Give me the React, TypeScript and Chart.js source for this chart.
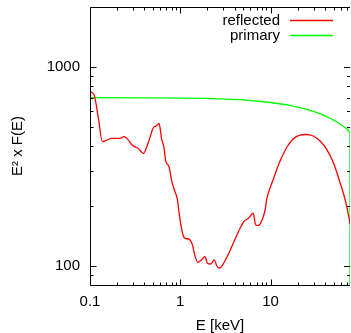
import { useEffect, useRef } from 'react';
import { Chart, registerables } from 'chart.js';

Chart.register(...registerables);

// Energy grid (keV) and E^2 F(E) values for the reflected spectrum
const reflectedE = [
  0.1, 0.1107, 0.1236, 0.1369, 0.1467, 0.174, 0.2149, 0.238, 0.2617, 0.2943,
  0.343, 0.3896, 0.4426, 0.512, 0.5387, 0.5815, 0.623, 0.6607, 0.69, 0.7504,
  0.804, 0.8525, 0.9135, 0.9276, 0.9936, 1.081, 1.149, 1.25, 1.374, 1.457,
  1.561, 1.685, 1.88, 1.994, 2.175, 2.384, 2.535, 2.688, 2.88, 3.132,
  3.558, 4.043, 4.592, 5.087, 5.675, 6.447, 6.785, 7.141, 7.65, 8.69,
  9.08, 10.74, 12.75, 15.12, 17.89, 21.23, 24.74, 29.8, 35.37, 41.95,
  49.63, 58.9, 66.9, 74.66, 76,
];
const reflectedF = [
  750, 726, 555, 421, 424, 437, 437, 446, 432, 403,
  389, 367, 416, 500, 503, 519, 432, 393, 336, 315,
  267, 243, 223, 216, 171, 141, 137, 136, 126, 112,
  104, 106, 111, 103, 102, 107, 100, 97.4, 99.3, 106,
  119, 136, 154, 167, 173, 184, 162, 159, 162, 189,
  216, 272, 336, 393, 435, 454, 457, 449, 424, 385,
  330, 262, 216, 171, 162,
];

// Primary spectrum (drops to zero at the cut-off energy)
const primaryE = [
  0.1, 0.5, 1, 2, 5, 10, 15, 20, 25, 30, 35, 40, 45, 50, 55, 60, 65, 70, 76, 76,
];
const primaryF = [
  700, 699, 697, 694, 683, 662, 645, 628, 612, 597, 582, 567, 553, 540, 527, 513, 500, 488, 466, 0.001,
];

const seriesLabels = ['reflected', 'primary'];
const seriesColors = ['#ff0000', '#00ff00'];

const xMajorTicks = [0.1, 1, 10];
const xTickLabels = ['0.1', '1', '10'];
const xMinorTicks = [0.2, 0.3, 0.4, 0.5, 0.6, 0.7, 0.8, 0.9, 2, 3, 4, 5, 6, 7, 8, 9, 20, 30, 40, 50, 60, 70];
const yMajorTicks = [100, 1000];
const yTickLabels = ['100', '1000'];
const yMinorTicks = [90, 200, 300, 400, 500, 600, 700, 800, 900];

const xRange = [0.1, 76];
const yRange = [80, 2000];

const FONT = "'Liberation Sans', Arial, Helvetica, sans-serif";

const framePlugin = {
  id: 'gnuFrame',
  afterDraw(chart: any) {
    const { ctx, chartArea: a, scales } = chart;
    const sx = scales.x;
    const sy = scales.y;
    ctx.save();
    ctx.strokeStyle = '#000';
    ctx.lineWidth = 1;
    ctx.beginPath();
    const L = Math.round(a.left) + 0.5;
    const T = Math.round(a.top) + 0.5;
    const B = Math.round(a.bottom) + 0.5;
    const R = a.right;
    ctx.moveTo(L, T);
    ctx.lineTo(L, B);
    ctx.lineTo(R, B);
    ctx.moveTo(L, T);
    ctx.lineTo(R, T);
    const xt = (vals: number[], len: number) => {
      vals.forEach((v) => {
        const px = Math.round(sx.getPixelForValue(v)) + 0.5;
        ctx.moveTo(px, B);
        ctx.lineTo(px, B - len);
        ctx.moveTo(px, T);
        ctx.lineTo(px, T + len);
      });
    };
    const yt = (vals: number[], len: number) => {
      vals.forEach((v) => {
        const py = Math.round(sy.getPixelForValue(v)) + 0.5;
        ctx.moveTo(L, py);
        ctx.lineTo(L + len, py);
        ctx.moveTo(R, py);
        ctx.lineTo(R - len, py);
      });
    };
    xt(xMajorTicks, 6);
    xt(xMinorTicks, 3);
    yt(yMajorTicks, 6);
    yt(yMinorTicks, 3);
    ctx.stroke();

    // key (text right-aligned, sample line to the right)
    ctx.font = `15px ${FONT}`;
    ctx.fillStyle = '#000';
    ctx.textAlign = 'right';
    ctx.textBaseline = 'middle';
    const rows = [21, 36];
    seriesLabels.forEach((lab, i) => {
      ctx.fillText(lab, 280, rows[i]);
      ctx.beginPath();
      ctx.strokeStyle = seriesColors[i];
      ctx.lineWidth = 1.3;
      ctx.moveTo(290, rows[i] - 0.5);
      ctx.lineTo(333, rows[i] - 0.5);
      ctx.stroke();
    });
    ctx.restore();
  },
};

export default function App() {
  const ref = useRef<HTMLCanvasElement | null>(null);
  useEffect(() => {
    if (!ref.current) return;
    Chart.defaults.font.family = FONT;
    Chart.defaults.font.size = 15;
    Chart.defaults.color = '#000';
    const chart = new Chart(ref.current, {
      type: 'line',
      data: {
        datasets: [
          {
            label: seriesLabels[0],
            data: reflectedE.map((e, i) => ({ x: e, y: reflectedF[i] })),
            borderColor: seriesColors[0],
            borderWidth: 1.3,
            pointRadius: 0,
            fill: false,
            cubicInterpolationMode: 'monotone',
          },
          {
            label: seriesLabels[1],
            data: primaryE.map((e, i) => ({ x: e, y: primaryF[i] })),
            borderColor: seriesColors[1],
            borderWidth: 1.3,
            pointRadius: 0,
            fill: false,
            tension: 0,
          },
        ],
      },
      options: {
        animation: false,
        responsive: false,
        devicePixelRatio: 1,
        layout: { padding: { top: 7, right: 1, left: 0, bottom: 0 } },
        plugins: { legend: { display: false }, tooltip: { enabled: false } },
        scales: {
          x: {
            type: 'logarithmic',
            min: xRange[0],
            max: xRange[1],
            grid: { display: false, drawTicks: false },
            border: { display: false },
            afterBuildTicks: (s: any) => {
              s.ticks = xMajorTicks.map((v) => ({ value: v }));
            },
            afterFit: (s: any) => {
              s.height = 48;
              s.paddingLeft = 0;
              s.paddingRight = 0;
            },
            ticks: {
              autoSkip: false,
              maxRotation: 0,
              padding: 8,
              callback: (v: any) => {
                const i = xMajorTicks.indexOf(Number(v));
                return i >= 0 ? xTickLabels[i] : '';
              },
            },
            title: {
              display: true,
              text: 'E [keV]',
              font: { size: 15, lineHeight: 1 },
              padding: { top: 0, bottom: 0 },
            },
          },
          y: {
            type: 'logarithmic',
            min: yRange[0],
            max: yRange[1],
            grid: { display: false, drawTicks: false },
            border: { display: false },
            afterBuildTicks: (s: any) => {
              s.ticks = yMajorTicks.map((v) => ({ value: v }));
            },
            afterFit: (s: any) => {
              s.width = 90;
              s.paddingTop = 0;
              s.paddingBottom = 0;
            },
            ticks: {
              autoSkip: false,
              padding: 10,
              callback: (v: any) => {
                const i = yMajorTicks.indexOf(Number(v));
                return i >= 0 ? yTickLabels[i] : '';
              },
            },
            title: {
              display: true,
              text: 'E² x F(E)',
              font: { size: 15, lineHeight: 1 },
              padding: { top: 10, bottom: 0 },
            },
          },
        },
      },
      plugins: [framePlugin],
    } as any);
    return () => chart.destroy();
  }, []);
  return (
    <canvas
      ref={ref}
      width={351}
      height={333}
      style={{ position: 'fixed', left: 0, top: 0, width: 351, height: 333, display: 'block', background: '#fff' }}
    />
  );
}
